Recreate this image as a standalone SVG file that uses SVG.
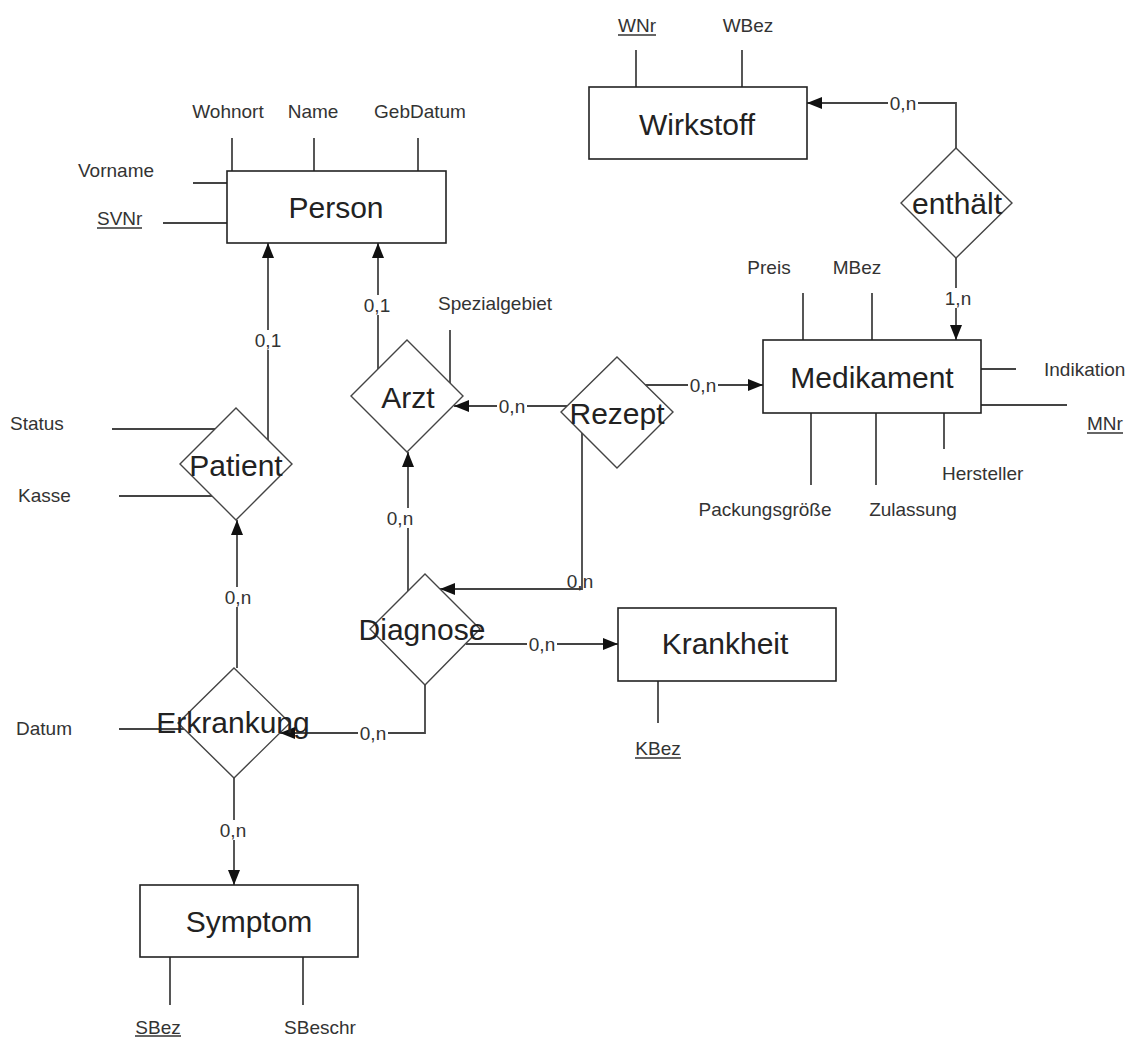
<svg xmlns="http://www.w3.org/2000/svg" width="1134" height="1038" viewBox="0 0 1134 1038">
<style>
.ent{fill:#fff;stroke:#222;stroke-width:1.6}
.rel{fill:#fff;stroke:#444;stroke-width:1.4}
.ln{fill:none;stroke:#444;stroke-width:1.8}
.ul{stroke:#333;stroke-width:1.3}
.nm{font-family:"Liberation Sans",Arial,sans-serif;font-size:30px;fill:#222;text-anchor:middle;dominant-baseline:central}
.at{font-family:"Liberation Sans",Arial,sans-serif;font-size:19px;fill:#333;dominant-baseline:central}
.c{text-anchor:middle}
.card{font-family:"Liberation Sans",Arial,sans-serif;font-size:19px;fill:#333;text-anchor:middle;dominant-baseline:central}
.bg{fill:#fff}
</style>
<defs>
<marker id="ah" markerUnits="userSpaceOnUse" markerWidth="16" markerHeight="12" refX="15" refY="6" orient="auto">
<path d="M0,0 L15,6 L0,12 Z" fill="#111"/>
</marker>
</defs>
<rect width="1134" height="1038" fill="#fff"/>

<g id="attributes">
<g class="ln">
<line x1="232" y1="138" x2="232" y2="171"/>
<line x1="314" y1="138" x2="314" y2="171"/>
<line x1="418" y1="138" x2="418" y2="171"/>
<line x1="193" y1="183" x2="227" y2="183"/>
<line x1="163" y1="223" x2="227" y2="223"/>
<line x1="636" y1="50" x2="636" y2="87"/>
<line x1="742" y1="50" x2="742" y2="87"/>
<line x1="803" y1="293" x2="803" y2="340"/>
<line x1="872" y1="293" x2="872" y2="340"/>
<line x1="981" y1="369" x2="1016" y2="369"/>
<line x1="981" y1="405" x2="1067" y2="405"/>
<line x1="811" y1="413" x2="811" y2="485"/>
<line x1="876" y1="413" x2="876" y2="485"/>
<line x1="944" y1="413" x2="944" y2="449"/>
<line x1="450" y1="330" x2="450" y2="383"/>
<line x1="112" y1="429" x2="215" y2="429"/>
<line x1="119" y1="496" x2="212" y2="496"/>
<line x1="119" y1="729" x2="184" y2="729"/>
<line x1="658" y1="681" x2="658" y2="723"/>
<line x1="170" y1="957" x2="170" y2="1005"/>
<line x1="303" y1="957" x2="303" y2="1005"/>
</g>
<g class="ul">
<line x1="97" y1="228" x2="142" y2="228"/>
<line x1="618" y1="35" x2="656" y2="35"/>
<line x1="1087" y1="433" x2="1123" y2="433"/>
<line x1="635" y1="758" x2="681" y2="758"/>
<line x1="135" y1="1036" x2="181" y2="1036"/>
</g>
<text class="at c" x="228" y="111">Wohnort</text>
<text class="at c" x="313" y="111">Name</text>
<text class="at c" x="420" y="111">GebDatum</text>
<text class="at" x="78" y="170">Vorname</text>
<text class="at" x="97" y="218">SVNr</text>
<text class="at c" x="637" y="25">WNr</text>
<text class="at c" x="748" y="25">WBez</text>
<text class="at c" x="769" y="267">Preis</text>
<text class="at c" x="857" y="267">MBez</text>
<text class="at" x="1044" y="369">Indikation</text>
<text class="at" x="1087" y="423">MNr</text>
<text class="at" x="942" y="473">Hersteller</text>
<text class="at c" x="765" y="509">Packungsgröße</text>
<text class="at c" x="913" y="509">Zulassung</text>
<text class="at c" x="495" y="303">Spezialgebiet</text>
<text class="at" x="10" y="423">Status</text>
<text class="at" x="18" y="495">Kasse</text>
<text class="at" x="16" y="728">Datum</text>
<text class="at c" x="658" y="748">KBez</text>
<text class="at c" x="158" y="1027">SBez</text>
<text class="at c" x="320" y="1027">SBeschr</text>
</g>

<g id="connectors" class="ln">
<polyline points="268,440 268,243" marker-end="url(#ah)"/>
<polyline points="378,369 378,243" marker-end="url(#ah)"/>
<polyline points="567,406 454,406" marker-end="url(#ah)"/>
<polyline points="645,385 763,385" marker-end="url(#ah)"/>
<polyline points="582,433 582,589 440,589" marker-end="url(#ah)"/>
<polyline points="408,591 408,452" marker-end="url(#ah)"/>
<polyline points="466,644 618,644" marker-end="url(#ah)"/>
<polyline points="425,685 425,733 280,733" marker-end="url(#ah)"/>
<polyline points="237,668 237,520" marker-end="url(#ah)"/>
<polyline points="234,778 234,885" marker-end="url(#ah)"/>
<polyline points="956,148 956,103 807,103" marker-end="url(#ah)"/>
<polyline points="956,258 956,340" marker-end="url(#ah)"/>
</g>

<g id="cardinalities">
<rect class="bg" x="254" y="330" width="28" height="20"/><text class="card" x="268" y="340">0,1</text>
<rect class="bg" x="363" y="295" width="28" height="20"/><text class="card" x="377" y="305">0,1</text>
<rect class="bg" x="497" y="396" width="30" height="20"/><text class="card" x="512" y="406">0,n</text>
<rect class="bg" x="688" y="375" width="30" height="20"/><text class="card" x="703" y="385">0,n</text>
<text class="card" x="580" y="581">0,n</text>
<rect class="bg" x="386" y="508" width="30" height="20"/><text class="card" x="400" y="518">0,n</text>
<rect class="bg" x="527" y="634" width="30" height="20"/><text class="card" x="542" y="644">0,n</text>
<rect class="bg" x="358" y="723" width="30" height="20"/><text class="card" x="373" y="733">0,n</text>
<rect class="bg" x="223" y="587" width="30" height="20"/><text class="card" x="238" y="597">0,n</text>
<rect class="bg" x="219" y="820" width="30" height="20"/><text class="card" x="233" y="830">0,n</text>
<rect class="bg" x="888" y="93" width="30" height="20"/><text class="card" x="903" y="103">0,n</text>
<rect class="bg" x="943" y="288" width="30" height="20"/><text class="card" x="958" y="298">1,n</text>
</g>

<g id="Person"><rect class="ent" x="227" y="171" width="219" height="72"/><text class="nm" x="336" y="207">Person</text></g>
<g id="Wirkstoff"><rect class="ent" x="589" y="87" width="218" height="72"/><text class="nm" x="697" y="124">Wirkstoff</text></g>
<g id="Medikament"><rect class="ent" x="763" y="340" width="218" height="73"/><text class="nm" x="872" y="377">Medikament</text></g>
<g id="Krankheit"><rect class="ent" x="618" y="608" width="218" height="73"/><text class="nm" x="725" y="643">Krankheit</text></g>
<g id="Symptom"><rect class="ent" x="140" y="885" width="218" height="72"/><text class="nm" x="249" y="921">Symptom</text></g>

<g id="enthaelt"><polygon class="rel" points="956,148 1012,203 956,258 901,203"/><text class="nm" x="957" y="203">enthält</text></g>
<g id="Arzt"><polygon class="rel" points="407,340 463,396 407,452 351,396"/><text class="nm" x="408" y="397">Arzt</text></g>
<g id="Rezept"><polygon class="rel" points="617,357 673,412 617,468 561,412"/><text class="nm" x="617" y="413">Rezept</text></g>
<g id="Patient"><polygon class="rel" points="236,408 292,464 236,520 180,464"/><text class="nm" x="236" y="465">Patient</text></g>
<g id="Diagnose"><polygon class="rel" points="425,574 480,629 425,685 370,629"/><text class="nm" x="422" y="629">Diagnose</text></g>
<g id="Erkrankung"><polygon class="rel" points="234,668 290,723 234,778 178,723"/><text class="nm" x="233" y="722">Erkrankung</text></g>
</svg>
